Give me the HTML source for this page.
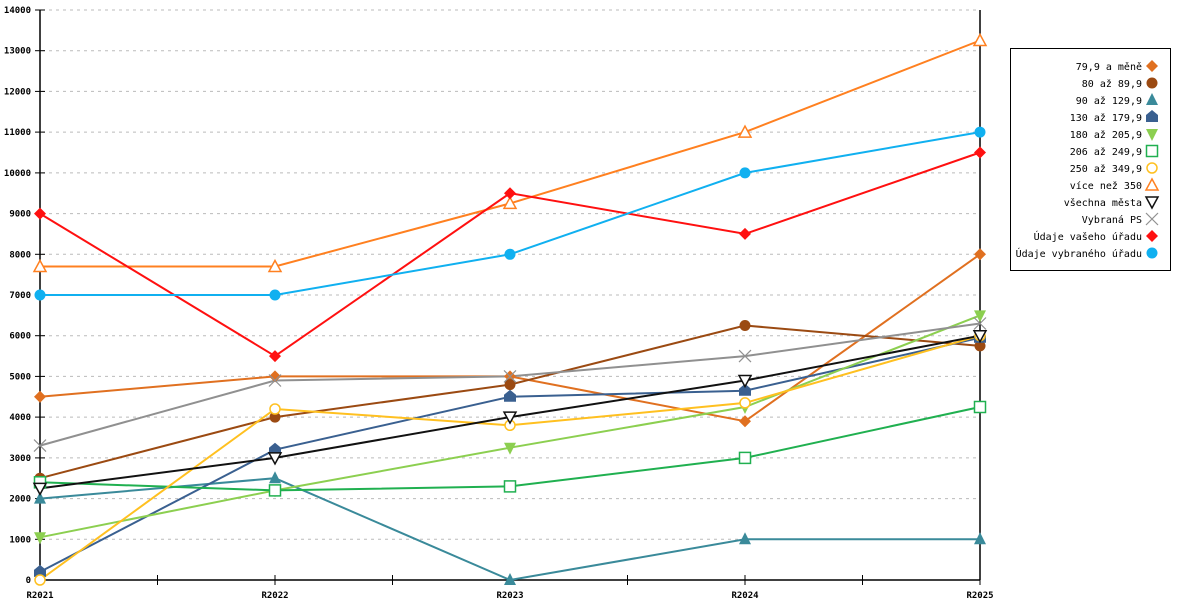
<!DOCTYPE html>
<html><head><meta charset="utf-8"><style>
html,body{margin:0;padding:0;background:#fff;}
svg{display:block;font-family:"DejaVu Sans Mono","Liberation Mono",monospace;}
</style></head><body>
<svg id="c" width="1200" height="600" xmlns="http://www.w3.org/2000/svg"></svg>
<script>
const s=document.getElementById('c');let h='';
const X=i=>40+i*235, Y=v=>580-v*570/14000;
for(let v=0;v<=14000;v+=1000){const y=Y(v).toFixed(1);
 if(v>0)h+=`<line x1="42" y1="${y}" x2="980" y2="${y}" stroke="#bbb" stroke-dasharray="3,4"/>`;
 h+=`<line x1="35" y1="${y}" x2="45" y2="${y}" stroke="#000"/>`;
 h+=`<text x="31" y="${+y+3}" font-size="9" font-weight="bold" text-anchor="end">${v}</text>`;}
h+=`<line x1="40" y1="10" x2="40" y2="580" stroke="#000" stroke-width="1.5"/><line x1="980" y1="10" x2="980" y2="580" stroke="#000" stroke-width="1.5"/><line x1="40" y1="580" x2="980" y2="580" stroke="#000" stroke-width="1.5"/>`;
for(let i=0;i<=8;i++){const x=40+i*117.5;h+=`<line x1="${x}" y1="575" x2="${x}" y2="585" stroke="#000"/>`;}
['R2021','R2022','R2023','R2024','R2025'].forEach((t,i)=>h+=`<text x="${X(i)}" y="598" font-size="9" font-weight="bold" text-anchor="middle">${t}</text>`);
const S=[
['79,9 a měně','#e07020','dia',[4500,5000,5000,3900,8000]],
['80 až 89,9','#9b4a12','cir',[2500,4000,4800,6250,5750]],
['90 až 129,9','#3a8a9a','tri',[2000,2500,0,1000,1000]],
['130 až 179,9','#3a6090','house',[200,3200,4500,4650,5950]],
['180 až 205,9','#8ccf50','dtri',[1050,2200,3250,4250,6500]],
['206 až 249,9','#20b050','sq',[2400,2200,2300,3000,4250]],
['250 až 349,9','#ffc020','hcir',[0,4200,3800,4350,6000]],
['více než 350','#ff8020','htri',[7700,7700,9250,11000,13250]],
['všechna města','#111','hdtri',[2250,3000,4000,4900,6000]],
['Vybraná PS','#909090','x',[3300,4900,5000,5500,6300]],
['Údaje vašeho úřadu','#ff1010','dia',[9000,5500,9500,8500,10500]],
['Údaje vybraného úřadu','#10b0f0','cir',[7000,7000,8000,10000,11000]]];
function M(t,x,y,c){switch(t){
case'dia':return`<polygon points="${x},${y-6} ${x+6},${y} ${x},${y+6} ${x-6},${y}" fill="${c}"/>`;
case'cir':return`<circle cx="${x}" cy="${y}" r="5.5" fill="${c}"/>`;
case'tri':return`<polygon points="${x},${y-7} ${x+6},${y+5} ${x-6},${y+5}" fill="${c}"/>`;
case'house':return`<polygon points="${x},${y-7} ${x+6},${y-2} ${x+6},${y+5} ${x-6},${y+5} ${x-6},${y-2}" fill="${c}"/>`;
case'dtri':return`<polygon points="${x-6},${y-5} ${x+6},${y-5} ${x},${y+7}" fill="${c}"/>`;
case'sq':return`<rect x="${x-5.5}" y="${y-5.5}" width="11" height="11" fill="#fff" stroke="${c}" stroke-width="1.5"/>`;
case'hcir':return`<circle cx="${x}" cy="${y}" r="5" fill="#fff" stroke="${c}" stroke-width="1.5"/>`;
case'htri':return`<polygon points="${x},${y-6} ${x+6},${y+5} ${x-6},${y+5}" fill="#fff" stroke="${c}" stroke-width="1.5"/>`;
case'hdtri':return`<polygon points="${x-6},${y-5} ${x+6},${y-5} ${x},${y+6}" fill="#fff" stroke="${c}" stroke-width="1.5"/>`;
case'x':return`<path d="M${x-6} ${y-6}L${x+6} ${y+6}M${x+6} ${y-6}L${x-6} ${y+6}" stroke="${c}" stroke-width="1.2"/>`;}}
S.forEach(([n,c,t,d])=>{h+=`<polyline fill="none" stroke="${c}" stroke-width="2" points="${d.map((v,i)=>X(i)+','+Y(v).toFixed(1)).join(' ')}"/>`;});
S.forEach(([n,c,t,d])=>{d.forEach((v,i)=>h+=M(t,X(i),+Y(v).toFixed(1),c));});
h+=`<rect x="1010.5" y="48.5" width="160" height="222" fill="#fff" stroke="#000"/>`;
S.forEach(([n,c,t],i)=>{const y=66+i*17;h+=`<text x="1142" y="${y+4}" font-size="10" text-anchor="end">${n}</text>`+M(t,1152,y,c);});
s.innerHTML=h;
</script>
</body></html>
